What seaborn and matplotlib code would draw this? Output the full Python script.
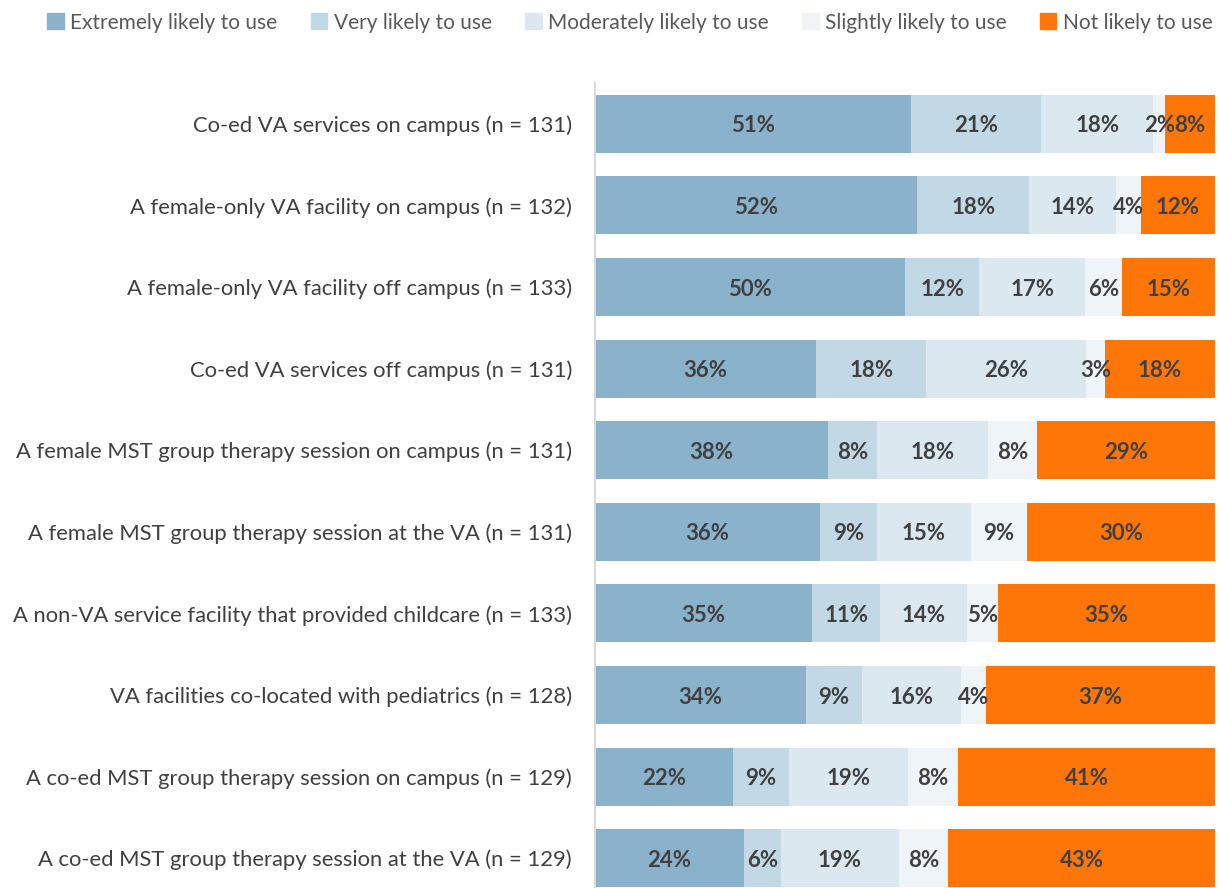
import matplotlib
matplotlib.use("Agg")
import matplotlib.pyplot as plt
import matplotlib.patches as mpatches
import seaborn as sns
import pandas as pd
import numpy as np

categories = [
    "Co-ed VA services on campus (n = 131)",
    "A female-only VA facility on campus (n = 132)",
    "A female-only VA facility off campus (n = 133)",
    "Co-ed VA services off campus (n = 131)",
    "A female MST group therapy session on campus (n = 131)",
    "A female MST group therapy session at the VA (n = 131)",
    "A non-VA service facility that provided childcare (n = 133)",
    "VA facilities co-located with pediatrics (n = 128)",
    "A co-ed MST group therapy session on campus (n = 129)",
    "A co-ed MST group therapy session at the VA (n = 129)",
]
series_names = ["Extremely likely to use", "Very likely to use",
                "Moderately likely to use", "Slightly likely to use",
                "Not likely to use"]
extremely = [51, 52, 50, 36, 38, 36, 35, 34, 22, 24]
very = [21, 18, 12, 18, 8, 9, 11, 9, 9, 6]
moderately = [18, 14, 17, 26, 18, 15, 14, 16, 19, 19]
slightly = [2, 4, 6, 3, 8, 9, 5, 4, 8, 8]
not_likely = [8, 12, 15, 18, 29, 30, 35, 37, 41, 43]

colors = ["#8AB2CB", "#C2D8E4", "#DCE8F0", "#EEF4F8", "#FF7608"]

sns.set_theme(style="white")
plt.rcParams["font.family"] = ["Lato", "DejaVu Sans"]

vals = np.array([extremely, very, moderately, slightly, not_likely], dtype=float)
totals = vals.sum(axis=0)
shares = vals / totals * 100
cum = np.cumsum(shares, axis=0)

fig = plt.figure(figsize=(12.19, 8.88), dpi=100)
ax = fig.add_axes([595 / 1219, -11 / 888, 620 / 1219, (899 - 83) / 888])

for i in range(4, -1, -1):
    df = pd.DataFrame({"cat": categories, "val": cum[i]})
    sns.barplot(data=df, x="val", y="cat", order=categories, color=colors[i],
                saturation=1, width=0.71, ax=ax, orient="h", edgecolor="none",
                linewidth=0)

for i in range(5):
    for j, c in enumerate(categories):
        start = cum[i - 1][j] if i > 0 else 0
        center = start + shares[i][j] / 2
        ax.text(center, j, f"{int(vals[i][j])}%", ha="center", va="center_baseline",
                fontsize=16, fontweight="bold", color="#404040")

ax.set_xlim(0, 100)
ax.set_ylim(9.5, -0.5)
ax.set_xlabel("")
ax.set_ylabel("")
ax.set_xticks([])
ax.tick_params(axis="y", length=0, pad=16.5, labelsize=15.8, labelcolor="#404040")
for s in ["top", "right", "bottom"]:
    ax.spines[s].set_visible(False)
ax.spines["left"].set_color("#D9D9D9")
ax.spines["left"].set_linewidth(1.5)

handles = [mpatches.Patch(color=colors[i], label=series_names[i]) for i in range(5)]
fig.legend(handles=handles, loc="upper right", bbox_to_anchor=(1.010, 1.007),
           ncol=5, frameon=False, fontsize=15, handlelength=0.8, handleheight=0.8,
           handletextpad=0.3, columnspacing=1.6, labelcolor="#595959")

fig.savefig("out.png", dpi=100)
